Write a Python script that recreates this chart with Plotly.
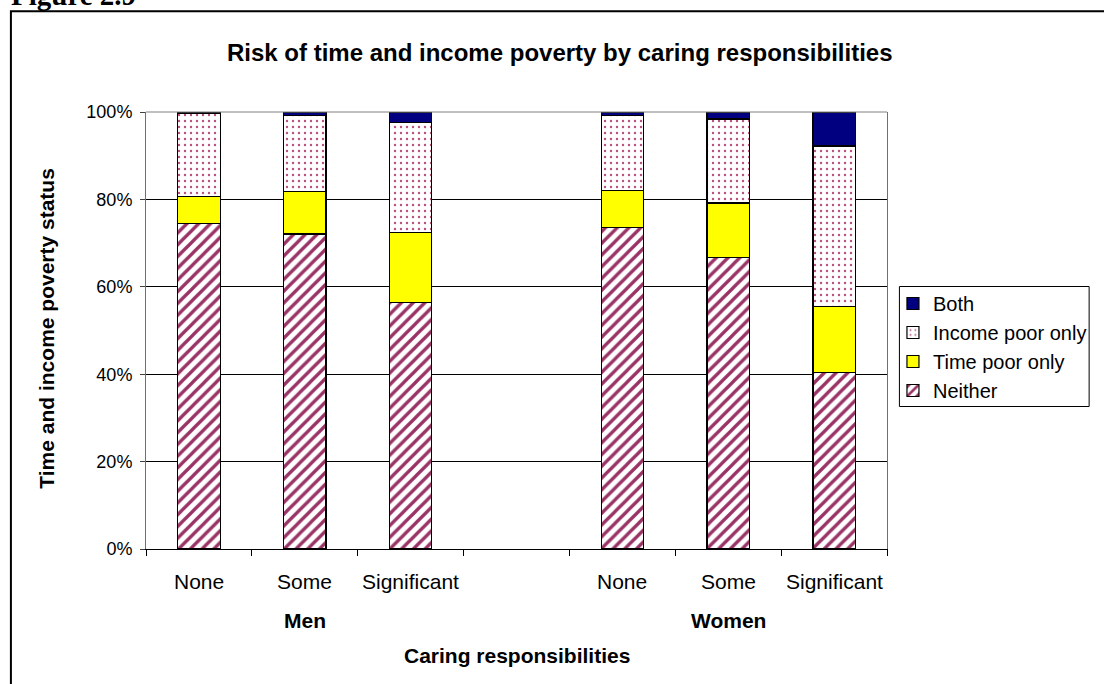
import plotly.graph_objects as go

# ---- data (percent of each group) ----
groups = ["Men", "Women"]
categories = ["None", "Some", "Significant"]

neither = [74.5, 72.1, 56.5, 73.5, 66.7, 40.3]
time_poor_only = [6.1, 9.8, 15.9, 8.6, 12.5, 15.2]
income_poor_only = [19.1, 17.3, 25.2, 17.1, 19.2, 36.7]
both = [0.3, 0.8, 2.4, 0.8, 1.6, 7.8]

y_ticks = [0, 20, 40, 60, 80, 100]
y_tick_text = [f"{v}%" for v in y_ticks]

# ---- layout geometry ----
W, H = 1104, 684
L, R, T, B = 146, 212, 112, 135
PW, PH = W - L - R, H - T - B
SLOTS = len(categories) + 1          # three bars plus an empty slot between groups

def px_x(px):
    return (px - L) / PW

def px_y(py):
    return (H - B - py) / PH

# bar positions: one slot per category, empty slot separating the two groups
x_pos = [g * SLOTS + c for g in range(len(groups)) for c in range(len(categories))]
x_lab = [categories[c] for g in range(len(groups)) for c in range(len(categories))]

PLUM = "#993366"
FONT = "Liberation Sans, Arial, sans-serif"
FS = 21

fig = go.Figure()

series = [
    ("Neither", neither, dict(color="white", pattern=dict(shape="/", fgcolor=PLUM, bgcolor="white", fgopacity=1,
                                                          size=8.3, solidity=0.4, fillmode="overlay"))),
    ("Time poor only", time_poor_only, dict(color="#FFFF00")),
    ("Income poor only", income_poor_only, dict(color="white", pattern=dict(shape=".", fgcolor="#B8507F", bgcolor="white",
                                                                            fgopacity=1, size=6, solidity=0.12,
                                                                            fillmode="overlay"))),
    ("Both", both, dict(color="#000080")),
]
for name, vals, mk in series:
    mk = dict(mk, line=dict(color="black", width=1.2))
    fig.add_trace(go.Bar(
        x=x_pos, y=vals, name=name, marker=mk, width=0.4,
        legendgroup=name, hoverinfo="skip",
    ))

fig.update_layout(
    width=W, height=H,
    margin=dict(l=L, r=R, t=T, b=B, pad=0),
    barmode="stack",
    paper_bgcolor="white", plot_bgcolor="white",
    font=dict(family=FONT, size=FS, color="black"),
    showlegend=True,
    legend=dict(
        x=px_x(898), y=px_y(284), xanchor="left", yanchor="top",
        traceorder="reversed", tracegroupgap=0,
        bgcolor="rgba(0,0,0,0)", borderwidth=0,
        font=dict(family=FONT, size=20, color="black"),
    ),
    xaxis=dict(
        range=[-0.5, SLOTS * len(groups) - 1.5],
        tickvals=[i - 0.5 for i in range(SLOTS * len(groups))],
        showticklabels=False, ticks="outside", ticklen=6, tickcolor="black",
        showline=True, linecolor="black", linewidth=1,
        showgrid=False, zeroline=False,
    ),
    yaxis=dict(
        range=[0, 100], tickvals=y_ticks, ticktext=y_tick_text,
        ticks="outside", ticklen=5, tickcolor="#404040",
        showline=True, linecolor="#707070", linewidth=1, mirror=True,
        showgrid=True, gridcolor="black", gridwidth=1,
        zeroline=False, ticklabelstandoff=4,
        tickfont=dict(family=FONT, size=18),
    ),
)

# grey top edge of the plot area
fig.add_shape(type="line", xref="paper", yref="paper", x0=0, x1=1, y0=1, y1=1,
              line=dict(color="#808080", width=1))

# legend frame
fig.add_shape(type="rect", xref="paper", yref="paper",
              x0=px_x(904.5), x1=px_x(1095.5), y0=px_y(406.5), y1=px_y(286.5),
              line=dict(color="black", width=1))

# outer frame of the figure box (left and top edges)
fig.add_shape(type="path", xref="paper", yref="paper",
              path=f"M {px_x(10)},{px_y(700)} L {px_x(10)},{px_y(11.3)} L {px_x(1120)},{px_y(11.3)}",
              line=dict(color="black", width=2))

annotations = []
# category labels under each bar
for xp, lab in zip(x_pos, x_lab):
    annotations.append(dict(x=xp, y=px_y(581), xref="x", yref="paper", text=lab,
                            showarrow=False, font=dict(size=FS), yanchor="middle"))
# group labels centred under the middle bar of each group
for g, grp in enumerate(groups):
    annotations.append(dict(x=g * SLOTS + (len(categories) - 1) / 2, y=px_y(620), xref="x", yref="paper",
                            text=f"<b>{grp}</b>", showarrow=False, font=dict(size=FS), yanchor="middle"))
# axis titles
annotations.append(dict(x=0.5, y=px_y(655), xref="paper", yref="paper",
                        text="<b>Caring responsibilities</b>", showarrow=False,
                        font=dict(size=FS), yanchor="middle"))
annotations.append(dict(x=px_x(45), y=px_y(328), xref="paper", yref="paper",
                        text="<b>Time and income poverty status</b>", showarrow=False,
                        textangle=-90, font=dict(size=FS), xanchor="center", yanchor="middle"))
# chart title
annotations.append(dict(x=px_x(563), y=px_y(52), xref="paper", yref="paper",
                        text="<b>Risk of time and income poverty by caring responsibilities</b>",
                        showarrow=False, font=dict(size=24), yanchor="middle"))
# figure caption above the frame
annotations.append(dict(x=px_x(8), y=px_y(13), xref="paper", yref="paper",
                        text="<b>Figure 2.9</b>", showarrow=False, xanchor="left", yanchor="bottom",
                        font=dict(family="Liberation Serif, Times New Roman, serif", size=29)))
fig.update_layout(annotations=annotations)

fig.write_html("out.html")
